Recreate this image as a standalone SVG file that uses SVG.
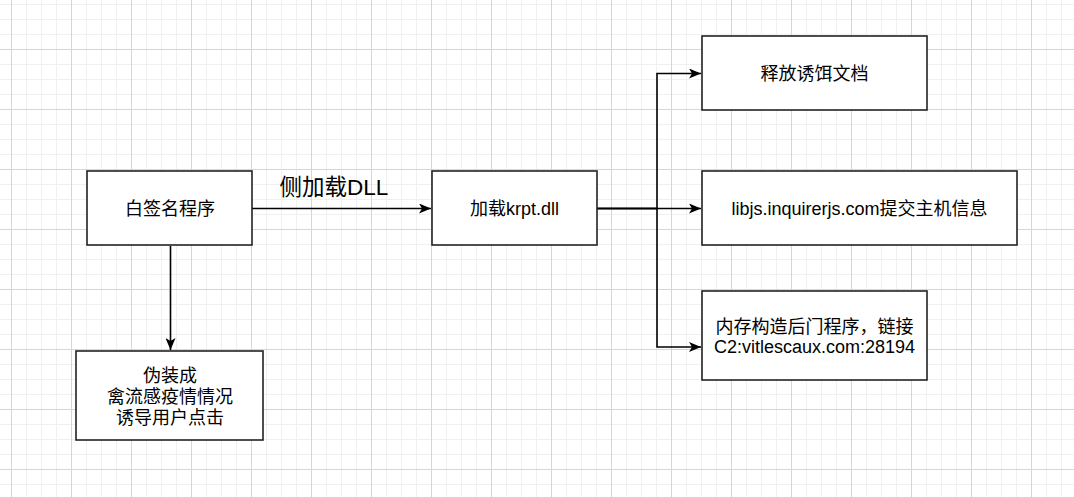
<svg xmlns="http://www.w3.org/2000/svg" width="1074" height="497" viewBox="0 0 1074 497">
  <defs>
    <pattern id="grid" patternUnits="userSpaceOnUse" x="11" y="49" width="60" height="60">
      <path d="M15.5,0V60M30.5,0V60M45.5,0V60M0,15.5H60M0,30.5H60M0,45.5H60" stroke="#f0f0f0" stroke-width="1" fill="none"/>
      <path d="M0.5,0V60M0,0.5H60" stroke="#d6d6d6" stroke-width="1" fill="none"/>
    </pattern>
    <marker id="arrow" markerUnits="userSpaceOnUse" markerWidth="12" markerHeight="10" refX="12" refY="5" orient="auto">
      <path d="M0,0 L12,5 L0,10 L3,5 Z" fill="#000"/>
    </marker>
    <style>
      .box { fill: #ffffff; stroke: #222222; stroke-width: 1.6; }
      .t { font-family: "Liberation Sans", "Noto Sans CJK SC", sans-serif; font-size: 18px; fill: #000; text-anchor: middle; }
      .lbl { font-family: "Liberation Sans", "Noto Sans CJK SC", sans-serif; font-size: 22.5px; fill: #000; text-anchor: middle; }
      .edge { fill: none; stroke: #000; stroke-width: 1.6; }
    </style>
  </defs>
  <rect width="1074" height="497" fill="#ffffff"/>
  <rect x="-1" y="-1" width="1076" height="499" fill="url(#grid)"/>

  <g id="connectors">
    <path class="edge" d="M252,208.5 H431" marker-end="url(#arrow)"/>
    <path class="edge" d="M170.5,246 V350" marker-end="url(#arrow)"/>
    <path class="edge" d="M597,208.5 H657 V73.5 H701" marker-end="url(#arrow)"/>
    <path class="edge" d="M597,208.5 H701" marker-end="url(#arrow)"/>
    <path class="edge" d="M597,208.5 H657 V347 H701" marker-end="url(#arrow)"/>
    <text class="lbl" x="334" y="195">侧加载DLL</text>
  </g>

  <g id="node-whitesign">
    <rect class="box" x="87" y="171" width="165" height="74"/>
    <text class="t" x="170" y="215">白签名程序</text>
  </g>

  <g id="node-disguise">
    <rect class="box" x="76" y="351" width="187" height="89"/>
    <text class="t" x="170" y="382">伪装成</text>
    <text class="t" x="170" y="403">禽流感疫情情况</text>
    <text class="t" x="170" y="424">诱导用户点击</text>
  </g>

  <g id="node-load">
    <rect class="box" x="432" y="171" width="165" height="74"/>
    <text class="t" x="514.5" y="215">加载krpt.dll</text>
  </g>

  <g id="node-decoy">
    <rect class="box" x="702" y="36" width="225" height="74"/>
    <text class="t" x="814.5" y="80">释放诱饵文档</text>
  </g>

  <g id="node-submit">
    <rect class="box" x="702" y="171" width="315" height="74"/>
    <text class="t" x="859.5" y="215">libjs.inquirerjs.com提交主机信息</text>
  </g>

  <g id="node-backdoor">
    <rect class="box" x="702" y="291" width="225" height="89"/>
    <text class="t" x="814.5" y="332.5">内存构造后门程序，链接</text>
    <text class="t" x="814.5" y="353">C2:vitlescaux.com:28194</text>
  </g>
</svg>
